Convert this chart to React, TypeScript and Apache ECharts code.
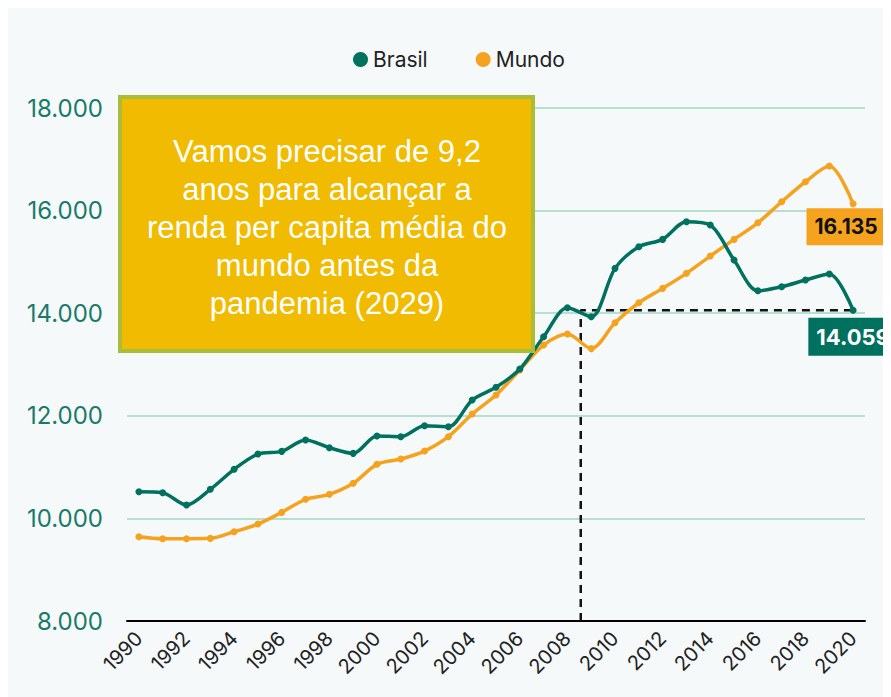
import React, { useEffect, useRef } from "react";
import * as echarts from "echarts";

const years: string[] = [
  "1990","1991","1992","1993","1994","1995","1996","1997","1998","1999",
  "2000","2001","2002","2003","2004","2005","2006","2007","2008","2009",
  "2010","2011","2012","2013","2014","2015","2016","2017","2018","2019","2020",
];
const brasil: number[] = [
  10520, 10500, 10261, 10567, 10957, 11255, 11307, 11528, 11378, 11268,
  11606, 11592, 11806, 11787, 12307, 12555, 12911, 13541, 14106, 13931,
  14874, 15295, 15439, 15782, 15718, 15036, 14437, 14516, 14646, 14763, 14059,
];
const mundo: number[] = [
  9643, 9604, 9604, 9611, 9740, 9890, 10118, 10372, 10469, 10684,
  11054, 11157, 11313, 11592, 12034, 12405, 12892, 13379, 13594, 13310,
  13814, 14204, 14484, 14777, 15114, 15439, 15763, 16172, 16562, 16868, 16135,
];
const crossingIndex = 18.56;
const yTicks = { min: 8000, max: 18000, interval: 2000 };
const annotation =
  "Vamos precisar de 9,2\nanos para alcançar a\nrenda per capita média do\nmundo antes da\npandemia (2029)";

const TEAL = "#00705f";
const ORANGE = "#f5a31e";
const FONT = "Inter, 'Noto Sans', sans-serif";

const fmt = (v: number) =>
  String(Math.round(v)).replace(/\B(?=(\d{3})+(?!\d))/g, ".");

export default function App() {
  const ref = useRef<HTMLDivElement>(null);
  useEffect(() => {
    if (!ref.current) return;
    const chart = echarts.init(ref.current, undefined, { renderer: "svg" });
    const last = years.length - 1;
    const brasilData = brasil.map((v, i) =>
      i === last
        ? {
            value: v,
            label: {
              show: true,
              position: "bottom",
              distance: 4,
              offset: [0, 0],
              formatter: () => fmt(v),
              backgroundColor: TEAL,
              color: "#ffffff",
              fontWeight: "bold",
              fontSize: 22,
              fontFamily: FONT,
              padding: [8, 8, 8, 8],
            },
          }
        : v
    );
    const mundoData = mundo.map((v, i) =>
      i === last
        ? {
            value: v,
            label: {
              show: true,
              position: "bottom",
              distance: 1,
              offset: [-7, 0],
              formatter: () => fmt(v),
              backgroundColor: ORANGE,
              color: "#111111",
              fontWeight: "bold",
              fontSize: 21,
              fontFamily: FONT,
              padding: [8, 8, 8, 8],
            },
          }
        : v
    );
    const endValue = brasil[last];
    chart.setOption({
      animation: false,
      backgroundColor: "#f5f9fa",
      textStyle: { fontFamily: FONT },
      legend: {
        top: 36,
        left: 340,
        itemGap: 48,
        itemWidth: 15,
        itemHeight: 15,
        icon: "circle",
        textStyle: { fontSize: 21, color: "#222222", fontFamily: FONT },
        data: ["Brasil", "Mundo"],
      },
      grid: { left: 119, right: 26, top: 100, bottom: 76, containLabel: false },
      xAxis: [
        {
          type: "category",
          data: years,
          boundaryGap: true,
          axisLine: { show: true, lineStyle: { color: "#000000", width: 2 } },
          axisTick: { show: false },
          axisLabel: {
            interval: 1,
            rotate: 45,
            fontSize: 20,
            color: "#222222",
            margin: 14,
            fontFamily: FONT,
          },
        },
        {
          type: "value",
          min: -0.5,
          max: years.length - 0.5,
          show: false,
        },
      ],
      yAxis: {
        type: "value",
        min: yTicks.min,
        max: yTicks.max,
        interval: yTicks.interval,
        axisLine: { show: false },
        axisTick: { show: false },
        splitLine: { lineStyle: { color: "#b5e0cf", width: 2 } },
        axisLabel: {
          fontSize: 24,
          color: "#1a7a6a",
          margin: 24,
          formatter: (v: number) => fmt(v),
          fontFamily: FONT,
        },
      },
      graphic: [
        {
          type: "rect",
          shape: { x: 112, y: 89, width: 413, height: 254 },
          style: { fill: "#f0bb00", stroke: "#a9bd38", lineWidth: 4 },
          z: 100,
        },
        {
          type: "text",
          x: 319,
          y: 219,
          style: {
            text: annotation,
            fill: "#ffffff",
            font: "31px 'Liberation Sans', Arial, sans-serif",
            align: "center",
            verticalAlign: "middle",
            lineHeight: 38,
          },
          z: 101,
        },
      ],
      series: [
        {
          name: "Guia",
          type: "line",
          xAxisIndex: 1,
          data: [
            [crossingIndex, yTicks.min],
            [crossingIndex, endValue],
            [last, endValue],
          ],
          symbol: "none",
          lineStyle: { color: "#111111", width: 2.5, type: [8, 6] },
          z: 1,
          silent: true,
        },
        {
          name: "Brasil",
          type: "line",
          data: brasilData,
          smooth: 0.3,
          symbol: "circle",
          symbolSize: 7,
          itemStyle: { color: TEAL },
          lineStyle: { color: TEAL, width: 3.5 },
          z: 3,
        },
        {
          name: "Mundo",
          type: "line",
          data: mundoData,
          smooth: 0.3,
          symbol: "circle",
          symbolSize: 7,
          itemStyle: { color: ORANGE },
          lineStyle: { color: ORANGE, width: 3.5 },
          z: 2,
        },
      ],
    });
    return () => chart.dispose();
  }, []);
  return <div ref={ref} style={{ width: 883, height: 689 }} />;
}
